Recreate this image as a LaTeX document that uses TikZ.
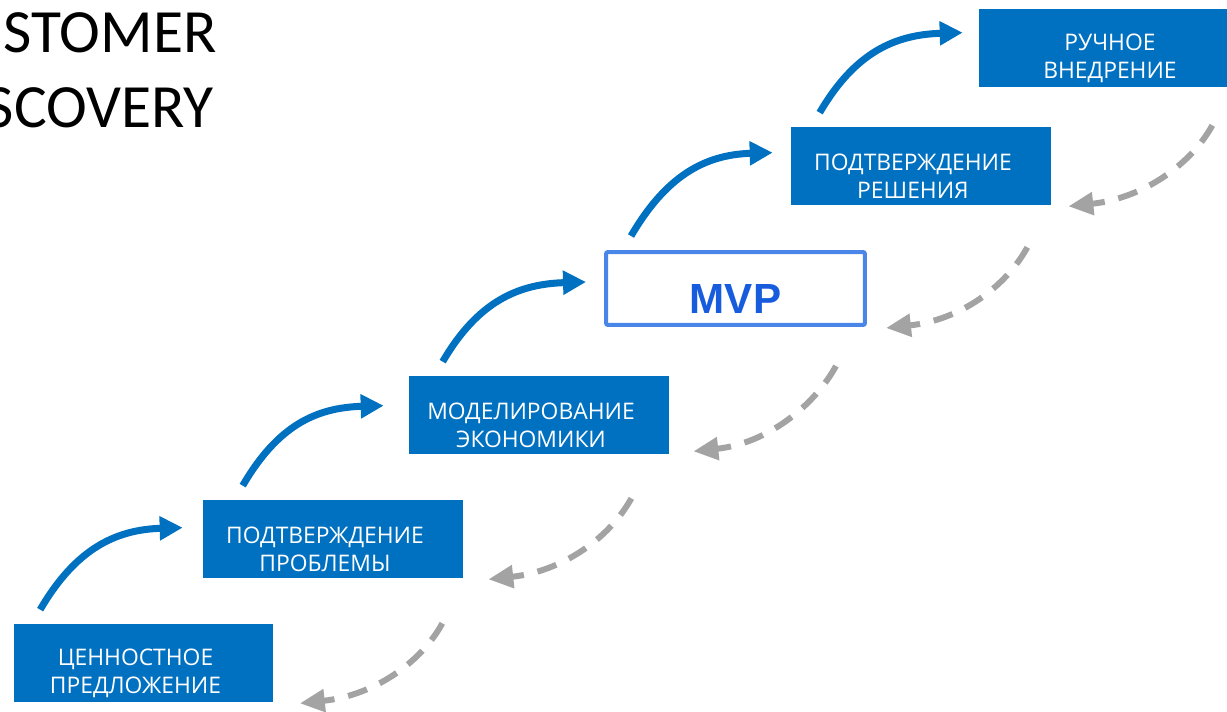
\documentclass[tikz,border=0pt]{standalone}
\usepackage{fontspec}
\setmainfont{Open Sans}
\newfontfamily\titlefont{Carlito}
\newfontfamily\mvpfont{Liberation Sans}
\usetikzlibrary{arrows.meta, positioning}
\definecolor{stageblue}{RGB}{0,112,192}
\definecolor{mvpline}{RGB}{74,134,232}
\definecolor{mvptext}{RGB}{24,92,222}
\definecolor{backgray}{RGB}{163,163,163}
\tikzset{>/.tip={Triangle[length=0.46cm,width=0.46cm]}}
\tikzset{
  stage/.style={fill=stageblue, minimum width=5.2cm, minimum height=1.56cm,
    label={[text=white, align=center, font=\fontsize{13}{16}\selectfont,
      xshift=-0.16cm, yshift=-0.2cm]center:#1}},
  mvpbox/.style={draw=mvpline, line width=0.08cm, rounded corners=0.04cm,
    minimum width=5.18cm, minimum height=1.46cm,
    label={[text=mvptext, font=\mvpfont\bfseries\fontsize{24}{28}\selectfont,
      yshift=-0.22cm]center:#1}},
  stepup/.style={draw=stageblue, line width=0.14cm, ->},
  stepback/.style={draw=backgray, line width=0.12cm,
    dash pattern=on 0.4cm off 0.28cm, -{Triangle[length=0.5cm,width=0.44cm]}},
  headline/.style={anchor=base east, inner sep=0pt,
    font=\titlefont\fontsize{35}{42}\selectfont}
}
\begin{document}
\begin{tikzpicture}[x=0.02cm, y=-0.02cm]
  \useasboundingbox (0,0) rectangle (1227,712);
  \clip (0,0) rectangle (1227,712);
  % title, cut at the left edge
  \node (st) [headline] at (217,53) {STOMER};
  \node (sc) [headline] at (214,128) {SCOVERY};
  % the stairs
  \node (cp) [stage={ЦЕННОСТНОЕ\\ПРЕДЛОЖЕНИЕ}] at (143.5,663) {};
  \node (pp) [stage={ПОДТВЕРЖДЕНИЕ\\ПРОБЛЕМЫ}] at (333,539) {};
  \node (me) [stage={МОДЕЛИРОВАНИЕ\\ЭКОНОМИКИ}] at (539,415) {};
  \node (mvp) [mvpbox=MVP] at (735.5,288.5) {};
  \node (ps) [stage={ПОДТВЕРЖДЕНИЕ\\РЕШЕНИЯ}] at (921,166) {};
  \node (rv) [stage={РУЧНОЕ\\ВНЕДРЕНИЕ}, minimum width=5.56cm] at (1118,48) {};
  % up
  \foreach \a/\b/\sx/\ex/\ey in {cp/pp/27/-20/28, pp/me/40/-25/30, me/mvp/34/-18/32,
                                 mvp/ps/27/-18/26, ps/rv/29/-16/24}
    \draw[stepup] ([shift={(\sx,-14)}]\a.north west)
      .. controls +(35,-60) and +(-68,2) .. ([shift={(\ex,\ey)}]\b.north west);
  % back
  \foreach \a/\b/\sx/\sy/\ex/\ey in {rv/ps/-45/38/17/1, ps/mvp/-24/42/19/1, mvp/me/-31/39/24/-3,
                                     me/pp/-38/44/25/1, pp/cp/-21/45/26/1}
    \draw[stepback] ([shift={(\sx,\sy)}]\a.south east)
      .. controls +(-22,40) and +(74,-8) .. ([shift={(\ex,\ey)}]\b.south east);
\end{tikzpicture}
\end{document}
